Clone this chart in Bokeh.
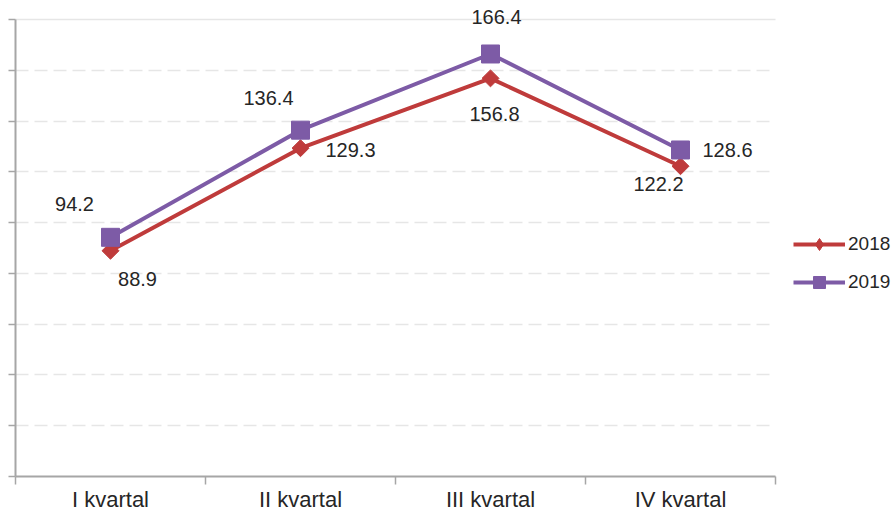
from bokeh.plotting import figure
from bokeh.models import (ColumnDataSource, FixedTicker, LabelSet, Legend, LegendItem,
                          CustomJSTickFormatter, Grid)
from bokeh.core.properties import value
from bokeh.embed import file_html
from bokeh.resources import INLINE

categories = ["I kvartal", "II kvartal", "III kvartal", "IV kvartal"]
values_2018 = [88.9, 129.3, 156.8, 122.2]
values_2019 = [94.2, 136.4, 166.4, 128.6]
y_ticks = [0, 20, 40, 60, 80, 100, 120, 140, 160, 180]

# label offsets (screen px) – styling only
off_2018_x = [27, 50, 4, -22]
off_2018_y = [-28, -2, -36, -18]
off_2019_x = [-36, -32, 6, 47]
off_2019_y = [33, 32, 37, 0]

RED = "#BF3B3B"
PURPLE = "#7D5BA6"
FONT = "Liberation Sans"
TXT = "#262626"
AX = "#A6A6A6"
GRID = "#E6E6E6"

W, H = 893, 514
LEFT, BOTTOM = 15, 37
PLOT_W, PLOT_H, PLOT_TOP = 760, 458, 19   # axis box in px
n = len(categories)
ymax = y_ticks[-1]
x_end = n * (W - LEFT) / PLOT_W
y_end = ymax * (PLOT_H + PLOT_TOP) / PLOT_H

xpos = [i + 0.5 for i in range(n)]

src18 = ColumnDataSource(dict(x=xpos, y=values_2018, t=[f"{v:.1f}" for v in values_2018],
                              ox=off_2018_x, oy=off_2018_y))
src19 = ColumnDataSource(dict(x=xpos, y=values_2019, t=[f"{v:.1f}" for v in values_2019],
                              ox=off_2019_x, oy=off_2019_y))

p = figure(width=W, height=H, x_range=(0, x_end), y_range=(0, y_end),
           output_backend="svg", toolbar_location=None,
           min_border_left=LEFT, min_border_right=0, min_border_top=0, min_border_bottom=BOTTOM)
p.outline_line_color = None
p.background_fill_color = "white"
p.xgrid.grid_line_color = None
p.ygrid.grid_line_color = None

# x axis
p.xaxis.bounds = (0, n)
p.xaxis.ticker = FixedTicker(ticks=xpos, minor_ticks=list(range(n + 1)))
p.xaxis.major_label_overrides = {x: c for x, c in zip(xpos, categories)}
p.xaxis.major_tick_out = 0
p.xaxis.major_tick_in = 0
p.xaxis.minor_tick_out = 8
p.xaxis.minor_tick_in = 0
p.xaxis.minor_tick_line_color = AX
p.xaxis.minor_tick_line_width = 1.5
p.xaxis.axis_line_color = AX
p.xaxis.axis_line_width = 2
p.xaxis.major_label_text_font = FONT
p.xaxis.major_label_text_font_size = "22px"
p.xaxis.major_label_text_color = TXT
p.xaxis.major_label_standoff = 2

# y axis
p.yaxis.bounds = (0, ymax)
p.yaxis.ticker = FixedTicker(ticks=y_ticks)
p.yaxis.formatter = CustomJSTickFormatter(code="return ''")
p.yaxis.major_tick_out = 7
p.yaxis.major_tick_in = 0
p.yaxis.minor_tick_line_color = None
p.yaxis.major_tick_line_color = AX
p.yaxis.major_tick_line_width = 1.5
p.yaxis.axis_line_color = AX
p.yaxis.axis_line_width = 2
p.yaxis.major_label_standoff = 0

# grid lines, limited to the category span
if "cross_bounds" in Grid.properties():
    g1 = Grid(dimension=1, ticker=FixedTicker(ticks=y_ticks[1:-1]), cross_bounds=(0, n),
              grid_line_color=GRID, grid_line_width=1.5, grid_line_dash="13 6")
    g2 = Grid(dimension=1, ticker=FixedTicker(ticks=y_ticks[-1:]), cross_bounds=(0, n),
              grid_line_color=GRID, grid_line_width=1.5)
    p.add_layout(g1)
    p.add_layout(g2)
else:
    p.segment(x0=0, x1=n, y0=y_ticks[1:-1], y1=y_ticks[1:-1], line_color=GRID,
              line_width=1.5, line_dash="13 6")
    p.segment(x0=0, x1=n, y0=y_ticks[-1:], y1=y_ticks[-1:], line_color=GRID, line_width=1.5)

l18 = p.line("x", "y", source=src18, line_color=RED, line_width=4)
d18 = p.scatter("x", "y", source=src18, marker="diamond", size=12,
                fill_color=RED, line_color=RED)
m18 = p.scatter("x", "y", source=src18, marker="square", angle=0.785398, size=12,
                fill_color=RED, line_color=RED)
l19 = p.line("x", "y", source=src19, line_color=PURPLE, line_width=4)
m19 = p.scatter("x", "y", source=src19, marker="square", size=18,
                fill_color=PURPLE, line_color=PURPLE)

for s in (src18, src19):
    p.add_layout(LabelSet(x="x", y="y", text="t", source=s, x_offset="ox", y_offset="oy",
                          text_font=value(FONT), text_font_size=value("20px"), text_color=TXT,
                          text_align="center", text_baseline="middle"))

legend = Legend(items=[LegendItem(label="2018", renderers=[l18, d18]),
                       LegendItem(label="2019", renderers=[l19, m19])],
                location=(778, 179))
legend.glyph_width = 52
legend.glyph_height = 30
legend.spacing = 8
legend.padding = 0
legend.margin = 0
legend.label_standoff = 3
legend.border_line_color = None
legend.background_fill_alpha = 0
legend.label_text_font = FONT
legend.label_text_font_size = "19px"
legend.label_text_color = TXT
p.add_layout(legend)

open("out.html", "w").write(file_html(p, INLINE))
